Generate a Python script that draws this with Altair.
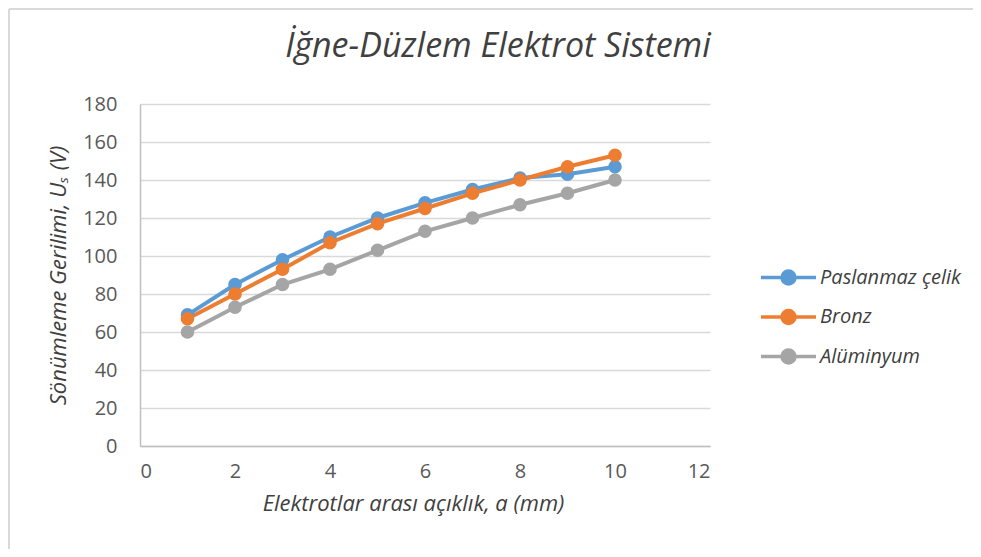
import altair as alt
import pandas as pd

x_vals = [1, 2, 3, 4, 5, 6, 7, 8, 9, 10]
series_names = ["Paslanmaz çelik", "Bronz", "Alüminyum"]
paslanmaz = [69, 85, 98, 110, 120, 128, 135, 141, 143, 147]
bronz = [67, 80, 93, 107, 117, 125, 133, 140, 147, 153]
aluminyum = [60, 73, 85, 93, 103, 113, 120, 127, 133, 140]
colors = ["#5B9BD5", "#ED7D31", "#A5A5A5"]
y_ticks = [0, 20, 40, 60, 80, 100, 120, 140, 160, 180]
x_ticks = [0, 2, 4, 6, 8, 10, 12]

rows = []
for name, vals in zip(series_names, [paslanmaz, bronz, aluminyum]):
    for xv, yv in zip(x_vals, vals):
        rows.append({"a": xv, "U": yv, "seri": name})
df = pd.DataFrame(rows)

FONT = "Open Sans"
W, H = 570, 342

legend_path = ("M-1.41,0H1.41M0.333,0A0.333,0.333 0 1,1 -0.333,0"
               "A0.333,0.333 0 1,1 0.333,0Z")

color_scale = alt.Scale(domain=series_names, range=colors)
color = alt.Color(
    "seri:N",
    scale=color_scale,
    legend=alt.Legend(
        title=None,
        orient="none",
        legendX=W + 57,
        legendY=152,
        symbolType=legend_path,
        symbolSize=1521,
        symbolStrokeWidth=3.5,
        labelFont=FONT,
        labelFontSize=20,
        labelFontStyle="italic",
        labelColor="#404040",
        rowPadding=4.5,
        labelOffset=10,
        labelLimit=400,
    ),
)

x_enc = alt.X(
    "a:Q",
    scale=alt.Scale(domain=[0, 12], nice=False),
    axis=alt.Axis(
        values=x_ticks,
        title="Elektrotlar arası açıklık, a (mm)",
        grid=False,
        ticks=False,
        labelOverlap=False,
        domainColor="#BFBFBF",
        domainWidth=1.5,
        labelPadding=15,
        titlePadding=12,
        titleX=273,
    ),
)
y_enc = alt.Y(
    "U:Q",
    scale=alt.Scale(domain=[0, 180], nice=False),
    axis=alt.Axis(
        values=y_ticks,
        title="Sönümleme Gerilimi, Uₛ (V)",
        grid=True,
        gridColor="#D9D9D9",
        gridWidth=1.5,
        ticks=False,
        labelOverlap=False,
        domainColor="#BFBFBF",
        domainWidth=1.5,
        labelPadding=23,
        titlePadding=12,
    ),
)

lines = alt.Chart(df).mark_line(strokeWidth=4).encode(
    x=x_enc, y=y_enc, color=color,
    order=alt.Order("a:Q"),
)
points = alt.Chart(df).mark_point(filled=True, size=185, opacity=1).encode(
    x=x_enc, y=y_enc,
    color=alt.Color("seri:N", scale=color_scale, legend=None),
)

title_df = pd.DataFrame({"t": ["İğne-Düzlem Elektrot Sistemi"]})
title = alt.Chart(title_df).mark_text(
    font=FONT, fontSize=34, fontStyle="italic", color="#404040",
    align="center", baseline="alphabetic",
).encode(x=alt.value(358), y=alt.value(-47), text="t:N")

border_top = alt.Chart(title_df).mark_rule(stroke="#D9D9D9", strokeWidth=2).encode(
    x=alt.value(-131), x2=alt.value(900), y=alt.value(-95)
)
border_left = alt.Chart(title_df).mark_rule(stroke="#D9D9D9", strokeWidth=2).encode(
    x=alt.value(-131), y=alt.value(-95), y2=alt.value(700)
)

chart = alt.layer(border_top, border_left, lines, points, title).properties(
    width=W, height=H,
    autosize=alt.AutoSizeParams(type="none"),
    padding={"left": 132, "top": 96, "right": 263, "bottom": 103},
).configure_view(stroke=None).configure_axis(
    labelFont=FONT, labelFontSize=20, labelColor="#595959",
    titleFont=FONT, titleFontSize=22, titleFontStyle="italic",
    titleFontWeight="normal", titleColor="#404040",
)

chart.save("out.html", embed_options={"renderer": "svg", "actions": False})
